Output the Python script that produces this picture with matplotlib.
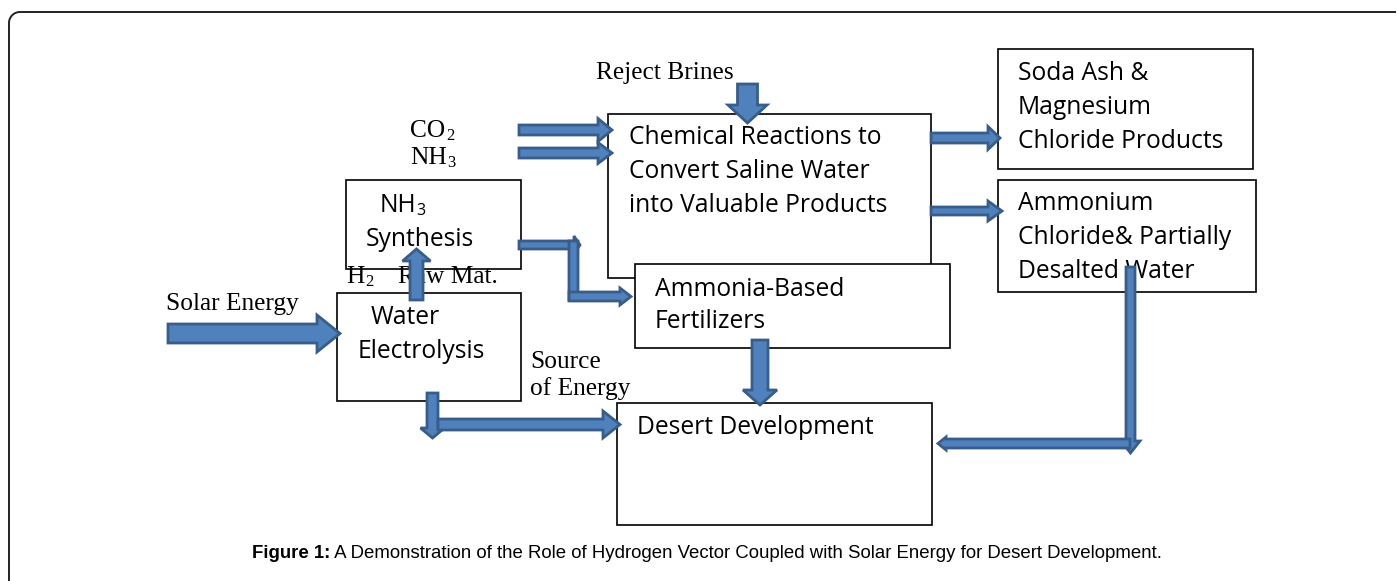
import matplotlib
matplotlib.use("Agg")
import numpy as np
import matplotlib.pyplot as plt
from matplotlib.patches import Polygon, Rectangle

# ---- diagram content (pixel coords, y grows downwards) ----
box_rects = [
    (608, 114, 931, 278),   # chemical reactions
    (635, 264, 950, 348),   # fertilizers
    (998, 49, 1253, 169),   # soda ash
    (998, 180, 1256, 292),  # ammonium chloride
    (346, 180, 521, 269),   # NH3 synthesis
    (337, 293, 521, 401),   # water electrolysis
    (617, 403, 932, 525),   # desert development
]
box_lines = [
    ["Chemical Reactions to", "Convert Saline Water", "into Valuable Products"],
    ["Ammonia-Based", "Fertilizers"],
    ["Soda Ash &", "Magnesium", "Chloride Products"],
    ["Ammonium", "Chloride& Partially", "Desalted Water"],
    ["", "Synthesis"],
    ["Water", "Electrolysis"],
    ["Desert Development"],
]
box_text_x = [629, 655, 1018, 1018, 366, 371, 637]
box_text_y = [138, 289, 73, 204, 205, 318, 427]
box_line_gap = [33.5, 33, 34, 33.5, 34, 34, 33]
box_indent = [[0, 0, 0], [0, 0], [0, 0, 0], [0, 0, 0], [0, 0], [0, -13], [0]]

serif_labels = ["Reject Brines", "Solar Energy", "Source", "of Energy", "Raw Mat."]
serif_x = [596, 166, 530, 530, 398]
serif_y = [73, 304, 362, 389, 277]

sub_labels = [("CO", "2"), ("NH", "3"), ("H", "2")]
sub_x = [410, 410, 346]
sub_y = [131, 158, 277]

# block arrows: start, end, shaft width, head width, head length
arrows = [
    (168, 333.5, 340, 333.5, 19, 37, 23),   # solar energy
    (519, 130, 612, 130, 10, 23, 14),       # CO2
    (519, 153, 612, 153, 10, 21, 14),       # NH3
    (747.5, 84, 747.5, 123, 20, 39, 18),    # reject brines
    (931, 138, 1000, 138, 10, 23, 12),      # to soda ash
    (931, 211, 1002, 211, 8, 20, 14),       # to ammonium
    (416.5, 300, 416.5, 249, 13, 28, 12),   # H2 up
    (432.5, 393, 432.5, 438, 11, 24, 10),   # electrolysis down
    (438, 424.5, 620, 424.5, 11, 27, 17),   # source of energy
    (760, 340, 760, 405, 16, 34, 15),       # fertilizers down
    (519, 245, 580, 245, 8, 18, 6),         # elbow part 1
    (573.5, 241, 573.5, 300, 9, 9, 0.1),    # elbow vertical
    (569, 296.5, 631, 296.5, 9, 17, 11),    # elbow to fertilizers
    (1130.5, 267, 1130.5, 453, 9, 19, 12),  # ammonium down
    (1130, 443.5, 938, 443.5, 9, 13, 8),    # back to desert
]

caption_bold = "Figure 1:"
caption_rest = " A Demonstration of the Role of Hydrogen Vector Coupled with Solar Energy for Desert Development."

FILL = "#4F81BD"
EDGE = "#385D8A"
SANS = "Open Sans"
SERIF = "Liberation Serif"
SANS_SIZE = 17.7
SERIF_SIZE = 18.3


def block_arrow(ax, x0, y0, x1, y1, sw, hw, hl):
    dx, dy = x1 - x0, y1 - y0
    length = (dx ** 2 + dy ** 2) ** 0.5
    ux, uy = dx / length, dy / length
    px, py = -uy, ux
    bx, by = x1 - ux * hl, y1 - uy * hl
    pts = [
        (x0 + px * sw / 2, y0 + py * sw / 2),
        (bx + px * sw / 2, by + py * sw / 2),
        (bx + px * hw / 2, by + py * hw / 2),
        (x1, y1),
        (bx - px * hw / 2, by - py * hw / 2),
        (bx - px * sw / 2, by - py * sw / 2),
        (x0 - px * sw / 2, y0 - py * sw / 2),
    ]
    ax.add_patch(Polygon(pts, closed=True, facecolor=FILL, edgecolor=EDGE,
                         linewidth=2.0, joinstyle="miter", zorder=5))


def sub_text(ax, main, sub, x, y, family, size, gap=0.5):
    t = ax.text(x, y, main, family=family, fontsize=size, ha="left", va="center", zorder=3)
    ax.annotate(sub, xy=(1, 0), xycoords=t, xytext=(gap, 1.5), textcoords="offset points",
                family=family, fontsize=size * 0.65, ha="left", va="baseline", zorder=3)


fig = plt.figure(figsize=(13.98, 5.81), dpi=100)
ax = fig.add_axes([0, 0, 1, 1])
ax.set_xlim(0, 1398)
ax.set_ylim(581, 0)
ax.axis("off")

# outer page frame with rounded top-left corner
r = 11
ang = np.linspace(np.pi, 1.5 * np.pi, 20)
fx = np.concatenate([[9], 9 + r + r * np.cos(ang), [1396]])
fy = np.concatenate([[581], 12 + r + r * np.sin(ang), [12]])
ax.plot(fx, fy, color="#222222", linewidth=1.4, solid_capstyle="butt")

for (x0, y0, x1, y1), lines, tx, ty, gap, ind in zip(
        box_rects, box_lines, box_text_x, box_text_y, box_line_gap, box_indent):
    ax.add_patch(Rectangle((x0, y0), x1 - x0, y1 - y0, facecolor="white",
                           edgecolor="black", linewidth=1.2, zorder=2))
    for i, line in enumerate(lines):
        ax.text(tx + ind[i], ty + i * gap, line, family=SANS, fontsize=SANS_SIZE,
                ha="left", va="center", zorder=3)

# NH3 title inside synthesis box
sub_text(ax, "NH", "3", 380, 205, SANS, SANS_SIZE, gap=-0.5)

for s, x, y in zip(serif_labels, serif_x, serif_y):
    ax.text(x, y, s, family=SERIF, fontsize=SERIF_SIZE, ha="left", va="center", zorder=3)
for (m, s), x, y in zip(sub_labels, sub_x, sub_y):
    sub_text(ax, m, s, x, y, SERIF, SERIF_SIZE)

for a in arrows:
    block_arrow(ax, *a)

tb = ax.text(252, 553, caption_bold, family="Liberation Sans", fontweight="bold",
             fontsize=13.45, ha="left", va="center")
ax.annotate(caption_rest, xy=(1, 0.5), xycoords=tb, va="center", ha="left",
            family="Liberation Sans", fontsize=13.45)

fig.savefig("out.png", dpi=100)
